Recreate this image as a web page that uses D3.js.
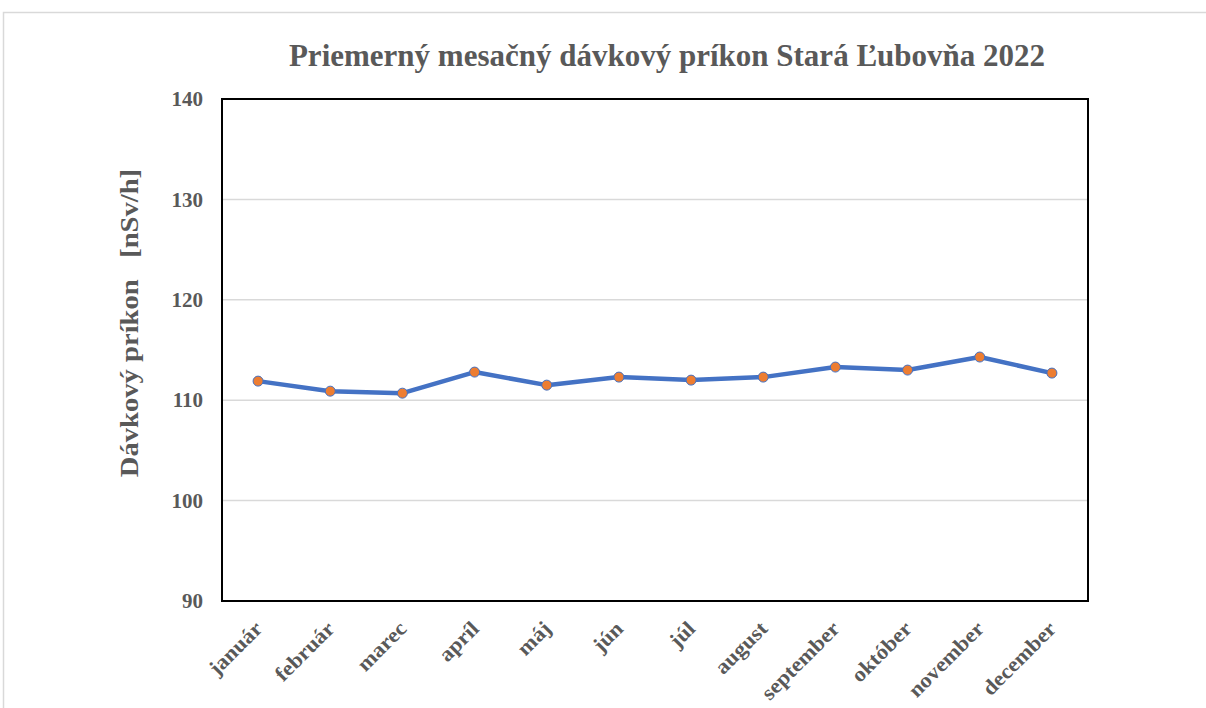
<!DOCTYPE html>
<html>
<head>
<meta charset="utf-8">
<script src="https://cdn.jsdelivr.net/npm/d3@7"></script>
<style>
  html, body { margin: 0; padding: 0; background: #fff; }
  svg { display: block; }
  text { font-family: "Liberation Serif", "Times New Roman", serif; font-weight: bold; fill: #595959; }
</style>
</head>
<body>
<svg id="chart" width="1206" height="708"></svg>
<script>
// Monthly averages of ambient dose rate (nSv/h)
const months = ["január", "február", "marec", "apríl", "máj", "jún", "júl", "august", "september", "október", "november", "december"];
const doseRate = [111.9, 110.9, 110.7, 112.8, 111.5, 112.3, 112.0, 112.3, 113.3, 113.0, 114.3, 112.7];
const yTicks = [90, 100, 110, 120, 130, 140];

const titleText = "Priemerný mesačný dávkový príkon Stará Ľubovňa 2022";
const yTitleText = "Dávkový príkon   [nSv/h]";

const svg = d3.select("#chart");
const W = 1206, H = 708;
const plot = { left: 222, top: 99, right: 1088, bottom: 601 };

// outer chart frame
svg.append("path")
  .attr("d", `M3.5,${H} V12.5 H${W}`)
  .attr("fill", "none")
  .attr("stroke", "#d9d9d9")
  .attr("stroke-width", 1.5);

const x = d3.scalePoint()
  .domain(months)
  .range([plot.left, plot.right])
  .padding(0.5);

const y = d3.scaleLinear()
  .domain([90, 140])
  .range([plot.bottom, plot.top]);

// horizontal gridlines
svg.append("g")
  .selectAll("line")
  .data(yTicks.filter(t => t !== 90 && t !== 140))
  .join("line")
  .attr("x1", plot.left).attr("x2", plot.right)
  .attr("y1", d => y(d)).attr("y2", d => y(d))
  .attr("stroke", "#d9d9d9")
  .attr("stroke-width", 1.5);

// plot border
svg.append("rect")
  .attr("x", plot.left).attr("y", plot.top)
  .attr("width", plot.right - plot.left)
  .attr("height", plot.bottom - plot.top)
  .attr("fill", "none")
  .attr("stroke", "#000")
  .attr("stroke-width", 2);

// y axis labels
const yAxis = d3.axisLeft(y).tickValues(yTicks).tickSize(0).tickPadding(19);
const gy = svg.append("g").attr("transform", `translate(${plot.left},0)`).call(yAxis);
gy.select(".domain").remove();
gy.selectAll("text")
  .style("font-family", "'Liberation Serif', serif")
  .style("font-weight", "bold")
  .style("font-size", "21px")
  .attr("fill", "#595959");

// x axis labels, rotated
const xAxis = d3.axisBottom(x).tickSize(0).tickPadding(0);
const gx = svg.append("g").attr("transform", `translate(0,${plot.bottom})`).call(xAxis);
gx.select(".domain").remove();
gx.selectAll("text")
  .style("font-family", "'Liberation Serif', serif")
  .style("font-weight", "bold")
  .style("font-size", "21px")
  .attr("fill", "#595959")
  .attr("text-anchor", "end")
  .attr("dy", null)
  .attr("y", 0)
  .attr("transform", "translate(5,29) rotate(-45) scale(1.08,1)");

// series line
const line = d3.line()
  .x((d, i) => x(months[i]))
  .y(d => y(d));

svg.append("path")
  .datum(doseRate)
  .attr("d", line)
  .attr("fill", "none")
  .attr("stroke", "#4472C4")
  .attr("stroke-width", 4.5)
  .attr("stroke-linejoin", "round");

// markers
svg.append("g")
  .selectAll("circle")
  .data(doseRate)
  .join("circle")
  .attr("cx", (d, i) => x(months[i]))
  .attr("cy", d => y(d))
  .attr("r", 5)
  .attr("fill", "#ED7D31")
  .attr("stroke", "#4472C4")
  .attr("stroke-width", 1);

// chart title
svg.append("text")
  .attr("x", 667).attr("y", 66)
  .attr("text-anchor", "middle")
  .style("font-size", "31px")
  .text(titleText);

// y axis title
svg.append("text")
  .attr("transform", `translate(138,323) rotate(-90) scale(1.1,1)`)
  .attr("text-anchor", "middle")
  .style("font-size", "26px")
  .style("white-space", "pre")
  .text(yTitleText);
</script>
</body>
</html>
